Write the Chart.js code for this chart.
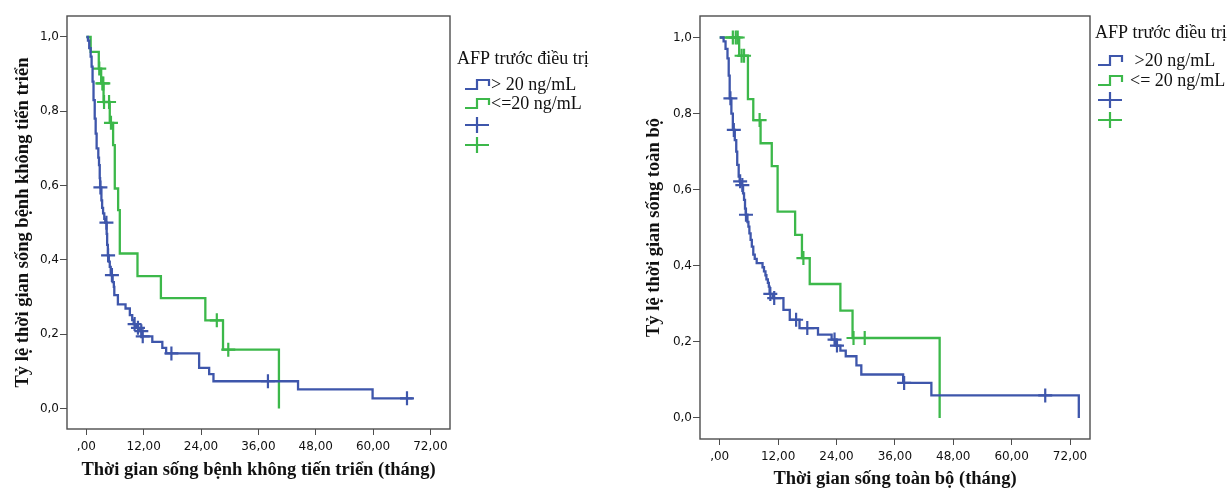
<!DOCTYPE html>
<html>
<head>
<meta charset="utf-8">
<script src="https://cdn.jsdelivr.net/npm/chart.js@4.4.0/dist/chart.umd.min.js"></script>
<style>
  html, body { margin: 0; padding: 0; background: #fff; }
  #wrap { position: relative; width: 1232px; height: 490px; overflow: hidden; }
  canvas { position: absolute; top: 0; }
</style>
</head>
<body>
<div id="wrap">
  <canvas id="pfs" width="616" height="490" style="left:0"></canvas>
  <canvas id="os" width="616" height="490" style="left:616px"></canvas>
</div>
<script>
// tick values and their SPSS-style labels
const xTicks = [0, 12, 24, 36, 48, 60, 72];
const xTickLabels = [',00', '12,00', '24,00', '36,00', '48,00', '60,00', '72,00'];
const yTicks = [0, 0.2, 0.4, 0.6, 0.8, 1.0];
const yTickLabels = ['0,0', '0,2', '0,4', '0,6', '0,8', '1,0'];

const legendTitle = 'AFP trước điều trị';
const pfsGroups = ['> 20 ng/mL', '<=20 ng/mL'];
const osGroups = [' >20 ng/mL', '<= 20 ng/mL'];

// PFS, AFP > 20 ng/mL (event time in months, survival after the event)
const pfsHighTime = [0, 0.34, 0.6, 0.9, 1.1, 1.3, 1.5, 1.75, 1.95, 2.15, 2.5, 2.65, 2.8, 2.88, 3.15, 3.3, 3.5, 3.75, 3.95, 4.25,
  4.35, 4.5, 4.7, 4.9, 5.1, 5.5, 5.75, 5.85, 6.6, 8.2, 9.1, 9.6, 9.9, 10.4, 11.2, 11.6, 13.8, 15.9, 16.7, 23.6,
  25.7, 26.6, 44.3, 59.9, 68.3];
const pfsHighSurv = [1, 0.99, 0.97, 0.947, 0.92, 0.88, 0.83, 0.78, 0.74, 0.70, 0.675, 0.655, 0.62, 0.595, 0.56, 0.54, 0.525, 0.51, 0.50, 0.47,
  0.44, 0.412, 0.395, 0.381, 0.359, 0.34, 0.327, 0.305, 0.28, 0.269, 0.251, 0.238, 0.227, 0.217, 0.208, 0.194, 0.179, 0.163, 0.148, 0.109,
  0.092, 0.073, 0.051, 0.027, 0.027];
const pfsHighCensTime = [2.94, 4.2, 4.55, 5.35, 10.1, 10.8, 11.5, 11.8, 17.8, 38.0, 67.1];
const pfsHighCensSurv = [0.595, 0.50, 0.412, 0.359, 0.227, 0.217, 0.208, 0.194, 0.148, 0.073, 0.027];

// PFS, AFP <= 20 ng/mL
const pfsLowTime = [0, 0.9, 2.6, 3.1, 3.6, 4.9, 5.6, 5.95, 6.65, 7.0, 10.7, 15.6, 24.9, 28.6, 40.3];
const pfsLowSurv = [1, 0.96, 0.915, 0.875, 0.825, 0.769, 0.709, 0.592, 0.534, 0.417, 0.356, 0.297, 0.237, 0.158, 0];
const pfsLowCensTime = [2.7, 3.35, 3.55, 3.7, 4.75, 5.15, 27.3, 29.7];
const pfsLowCensSurv = [0.915, 0.875, 0.875, 0.825, 0.825, 0.769, 0.237, 0.158];

// OS, AFP > 20 ng/mL
const osHighTime = [0, 0.8, 1.2, 1.6, 1.85, 2.05, 2.4, 2.7, 3.1, 3.4, 3.6, 3.9, 4.1, 4.5, 4.8, 5.0, 5.2, 5.35, 5.7, 5.9,
  6.1, 6.35, 6.6, 6.9, 7.2, 7.6, 8.8, 9.1, 9.4, 9.6, 9.9, 10.1, 10.25, 10.9, 13.1, 14.4, 16.4, 20.2, 23.0, 23.9,
  24.8, 25.9, 28.1, 29.1, 37.7, 43.5, 73.8];
const osHighSurv = [1, 0.99, 0.97, 0.945, 0.90, 0.84, 0.80, 0.757, 0.73, 0.70, 0.665, 0.634, 0.622, 0.612, 0.59, 0.573, 0.55, 0.534, 0.515, 0.503,
  0.485, 0.468, 0.45, 0.429, 0.418, 0.407, 0.396, 0.385, 0.375, 0.364, 0.355, 0.345, 0.326, 0.315, 0.284, 0.258, 0.236, 0.219, 0.206, 0.19,
  0.177, 0.162, 0.138, 0.114, 0.092, 0.059, 0];
const osHighCensTime = [2.2, 2.9, 4.2, 4.65, 5.4, 10.4, 11.2, 15.7, 18.0, 23.6, 24.1, 37.9, 66.9];
const osHighCensSurv = [0.84, 0.757, 0.622, 0.612, 0.534, 0.326, 0.315, 0.258, 0.236, 0.206, 0.19, 0.092, 0.059];

// OS, AFP <= 20 ng/mL
const osLowTime = [0, 4.0, 5.8, 6.9, 8.4, 10.7, 11.9, 15.5, 16.9, 18.5, 24.8, 27.3, 45.2];
const osLowSurv = [1, 0.952, 0.838, 0.783, 0.722, 0.662, 0.542, 0.481, 0.42, 0.352, 0.282, 0.21, 0];
const osLowCensTime = [2.7, 3.3, 3.7, 4.5, 5.0, 8.2, 17.2, 27.5, 29.8];
const osLowCensSurv = [1, 1, 1, 0.952, 0.952, 0.783, 0.42, 0.21, 0.21];

const blue = '#3e56ab';
const green = '#3cb84a';

const toXY = (xs, ys) => xs.map((x, i) => ({ x: x, y: ys[i] }));

// box around the plot area, like SPSS
const framePlugin = {
  id: 'frame',
  afterDraw(chart) {
    const { ctx, chartArea: a } = chart;
    ctx.save();
    ctx.strokeStyle = '#4d4d4d';
    ctx.lineWidth = 1.4;
    ctx.strokeRect(a.left, a.top, a.right - a.left, a.bottom - a.top);
    ctx.restore();
  }
};

// legend on the right: step symbols for the curves, crosses for censored cases
const kmLegendPlugin = {
  id: 'kmLegend',
  afterDraw(chart, args, o) {
    const ctx = chart.ctx;
    ctx.save();
    ctx.font = '18px "Liberation Serif"';
    ctx.fillStyle = '#111';
    ctx.textBaseline = 'middle';
    ctx.textAlign = 'left';
    ctx.fillText(o.title, o.titleX, o.titleY);
    ctx.lineWidth = 2.2;
    const colors = [blue, green];
    o.labels.forEach((lab, i) => {
      const cy = o.rows[i];
      ctx.strokeStyle = colors[i];
      ctx.beginPath();
      ctx.moveTo(o.symX, cy + 4);
      ctx.lineTo(o.symX + 12, cy + 4);
      ctx.lineTo(o.symX + 12, cy - 5);
      ctx.lineTo(o.symX + 24, cy - 5);
      ctx.lineTo(o.symX + 24, cy + 1);
      ctx.stroke();
      ctx.fillText(lab, o.textX, cy);
    });
    colors.forEach((c, i) => {
      const cy = o.rows[2 + i];
      ctx.strokeStyle = c;
      ctx.beginPath();
      ctx.moveTo(o.symX, cy);
      ctx.lineTo(o.symX + 24, cy);
      ctx.moveTo(o.symX + 12, cy - 8);
      ctx.lineTo(o.symX + 12, cy + 8);
      ctx.stroke();
    });
    ctx.restore();
  }
};

function kmChart(id, curves, opt) {
  const datasets = [];
  curves.forEach(c => {
    datasets.push({
      data: toXY(c.time, c.surv),
      showLine: true,
      stepped: 'before',
      borderColor: c.color,
      borderWidth: 2.3,
      pointRadius: 0,
      fill: false
    });
    datasets.push({
      data: toXY(c.censTime, c.censSurv),
      showLine: false,
      pointStyle: 'cross',
      pointRadius: 7,
      borderColor: c.color,
      backgroundColor: c.color,
      borderWidth: 2.2
    });
  });

  return new Chart(document.getElementById(id), {
    type: 'scatter',
    data: { datasets },
    options: {
      responsive: false,
      animation: false,
      events: [],
      layout: { padding: opt.padding },
      plugins: {
        legend: { display: false },
        tooltip: { enabled: false },
        kmLegend: opt.legend
      },
      scales: {
        x: {
          type: 'linear',
          min: -4.05,
          max: 76.1,
          afterBuildTicks: s => { s.ticks = xTicks.map(v => ({ value: v })); },
          afterFit: s => { s.height = opt.xHeight; },
          border: { display: false },
          grid: { drawOnChartArea: false, drawTicks: true, tickLength: 6, color: '#4d4d4d', lineWidth: 1 },
          ticks: {
            autoSkip: false,
            maxRotation: 0,
            padding: 5,
            color: '#111',
            font: { family: 'DejaVu Sans', size: 12 },
            callback: v => xTickLabels[xTicks.indexOf(v)]
          },
          title: {
            display: true,
            text: opt.xTitle,
            color: '#111',
            font: { family: 'Liberation Serif', size: 18.5, weight: 'bold' },
            padding: { top: 0, bottom: opt.xTitlePad }
          }
        },
        y: {
          min: -0.0555,
          max: 1.0565,
          afterBuildTicks: s => { s.ticks = yTicks.map(v => ({ value: v })); },
          afterFit: s => { s.width = opt.yWidth; },
          border: { display: false },
          grid: { drawOnChartArea: false, drawTicks: true, tickLength: 7, color: '#4d4d4d', lineWidth: 1 },
          ticks: {
            padding: 1,
            color: '#111',
            font: { family: 'DejaVu Sans', size: 12 },
            callback: v => yTickLabels[yTicks.indexOf(v)]
          },
          title: {
            display: true,
            text: opt.yTitle,
            color: '#111',
            font: { family: 'Liberation Serif', size: 18.5, weight: 'bold' },
            padding: { top: opt.yTitlePad, bottom: 0 }
          }
        }
      }
    },
    plugins: [framePlugin, kmLegendPlugin]
  });
}

kmChart('pfs', [
  { time: pfsHighTime, surv: pfsHighSurv, censTime: pfsHighCensTime, censSurv: pfsHighCensSurv, color: blue },
  { time: pfsLowTime, surv: pfsLowSurv, censTime: pfsLowCensTime, censSurv: pfsLowCensSurv, color: green }
], {
  padding: { left: 0, top: 16, right: 166, bottom: 0 },
  xHeight: 61,
  yWidth: 67,
  xTitle: 'Thời gian sống bệnh không tiến triển (tháng)',
  yTitle: 'Tỷ lệ thời gian sống bệnh không tiến triển',
  xTitlePad: 9,
  yTitlePad: 12,
  legend: { title: legendTitle, titleX: 457, titleY: 59, symX: 465, textX: 491, rows: [85, 104, 125, 145], labels: pfsGroups }
});

kmChart('os', [
  { time: osHighTime, surv: osHighSurv, censTime: osHighCensTime, censSurv: osHighCensSurv, color: blue },
  { time: osLowTime, surv: osLowSurv, censTime: osLowCensTime, censSurv: osLowCensSurv, color: green }
], {
  padding: { left: 16, top: 16, right: 142, bottom: 0 },
  xHeight: 51,
  yWidth: 68,
  xTitle: 'Thời gian sống toàn bộ (tháng)',
  yTitle: 'Tỷ lệ thời gian sống toàn bộ',
  xTitlePad: 0,
  yTitlePad: 11,
  legend: { title: legendTitle, titleX: 479, titleY: 33, symX: 482, textX: 514, rows: [61, 81, 100, 120], labels: osGroups }
});
</script>
</body>
</html>
